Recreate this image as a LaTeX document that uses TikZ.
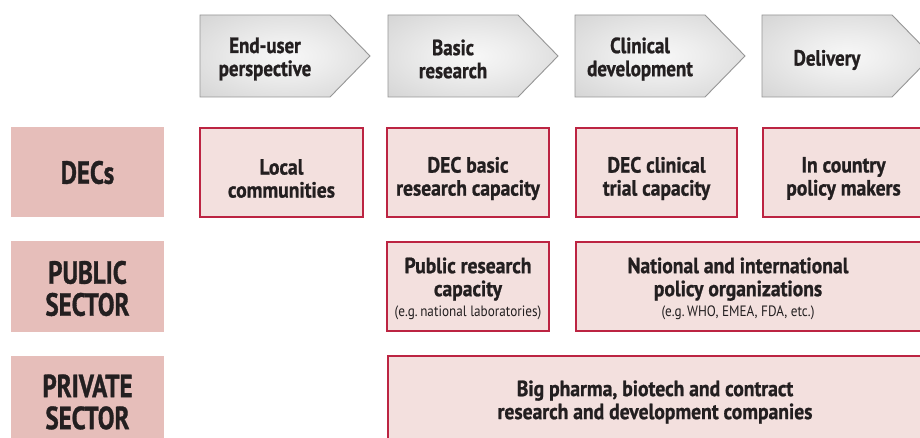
\documentclass[tikz,border=0pt]{standalone}
\usepackage{fontspec}
\setmainfont{PT Sans}[FakeStretch=0.89, BoldFeatures={FakeBold=1}]
\newfontfamily\sectorfont{PT Sans}[FakeStretch=0.78, BoldFeatures={FakeBold=1}]
\newfontfamily\stagefont{PT Sans}[FakeStretch=0.86, BoldFeatures={FakeBold=1}]
\newfontfamily\notefont{PT Sans}[FakeStretch=0.88]

\definecolor{labelfill}{RGB}{230,190,186}
\definecolor{cellfill}{RGB}{243,224,222}
\definecolor{cellline}{RGB}{188,36,66}
\definecolor{ink}{RGB}{35,31,32}
\definecolor{chevedge}{RGB}{150,150,150}
\definecolor{chevdark}{RGB}{198,198,198}

% soft grey glow used inside the stage arrows
\pgfdeclareradialshading{chevglow}{\pgfpoint{0bp}{0bp}}{%
  color(0bp)=(white!97!black); color(12bp)=(white!93!black);
  color(50bp)=(chevdark); color(100bp)=(chevdark)}

\tikzset{
  stagebox/.style={shading=chevglow, draw=chevedge, line width=0.9pt},
  stagetext/.style={font=\stagefont\bfseries\fontsize{22}{23}\selectfont, text=ink,
    align=center, inner sep=0pt},
  sectorbox/.style={fill=labelfill, draw=none, minimum width=153pt, minimum height=90pt,
    inner sep=0pt},
  sectortext/.style={font=\sectorfont\bfseries\fontsize{32}{32}\selectfont, text=ink,
    align=center, inner sep=0pt},
  cellbox/.style={fill=cellfill, draw=cellline, line width=1.3pt, minimum height=89pt, inner sep=0pt},
  celltext/.style={font=\bfseries\fontsize{22}{23}\selectfont, text=ink, align=center, inner sep=0pt},
}
\newcommand{\notetext}[1]{{\notefont\mdseries\fontsize{15}{15}\selectfont #1}}

\begin{document}
\begin{tikzpicture}[x=1pt,y=-1pt]
\clip (0,0) rectangle (920,438);
\fill[white] (0,0) rectangle (920,438);

% stage arrows along the top
\foreach \xa in {200,388,575,762}{
  \shadedraw[stagebox] (\xa,15) -- ++(130,0) -- ++(40,41) -- ++(-40,41) -- ++(-130,0) -- cycle;
}
\node[stagetext] (t1) at (265,59) {End-user\\perspective};
\node[stagetext] (t2) at (453,59) {Basic\\research};
\node[stagetext] (t3) at (640,59) {Clinical\\development};
\node[stagetext] (t4) at (827,60) {Delivery};

% sector labels on the left
\node[sectorbox] (decs) at (87.5,172.5) {};
\node[sectorbox] (pub) at (87.5,286.5) {};
\node[sectorbox] (priv) at (87.5,401) {};
\node[sectortext] (decst) at (decs.center) {DECs};
\node[sectortext] (pubt) at ([yshift=-2pt]pub.center) {PUBLIC\\SECTOR};
\node[sectortext] (privt) at ([yshift=-1pt]priv.center) {PRIVATE\\SECTOR};

% row: DECs
\node[cellbox, minimum width=163pt] (loc) at (281.5,172.5) {};
\node[cellbox, minimum width=162pt] (decb) at (468,172.5) {};
\node[cellbox, minimum width=161pt] (decc) at (656.5,172.5) {};
\node[cellbox, minimum width=161pt] (pol) at (843.5,172.5) {};
\node[celltext] (loct) at ([yshift=-6pt]loc.center) {Local\\communities};
\node[celltext] (decbt) at ([yshift=-6pt]decb.center) {DEC basic\\research capacity};
\node[celltext] (decct) at ([yshift=-6pt]decc.center) {DEC clinical\\trial capacity};
\node[celltext] (polt) at ([yshift=-6pt]pol.center) {In country\\policy makers};

% row: public sector
\node[cellbox, minimum width=162pt] (pubr) at (468,286.5) {};
\node[cellbox, minimum width=360pt] (natl) at (756,286.5) {};
\node[celltext] (pubrt) at ([yshift=-2pt]pubr.center)
  {Public research\\capacity\\[-3pt]\notetext{(e.g.\,national laboratories)}};
\node[celltext] (natlt) at (738,288.5)
  {National and international\\policy organizations\\[-3pt]\notetext{(e.g.\,WHO, EMEA, FDA, etc.)}};

% row: private sector
\node[cellbox, minimum width=534pt, minimum height=90pt] (pharma) at (655,401) {};
\node[celltext] (pharmat) at ([yshift=-1pt]pharma.center)
  {Big pharma, biotech and contract\\research and development companies};
\end{tikzpicture}
\end{document}
